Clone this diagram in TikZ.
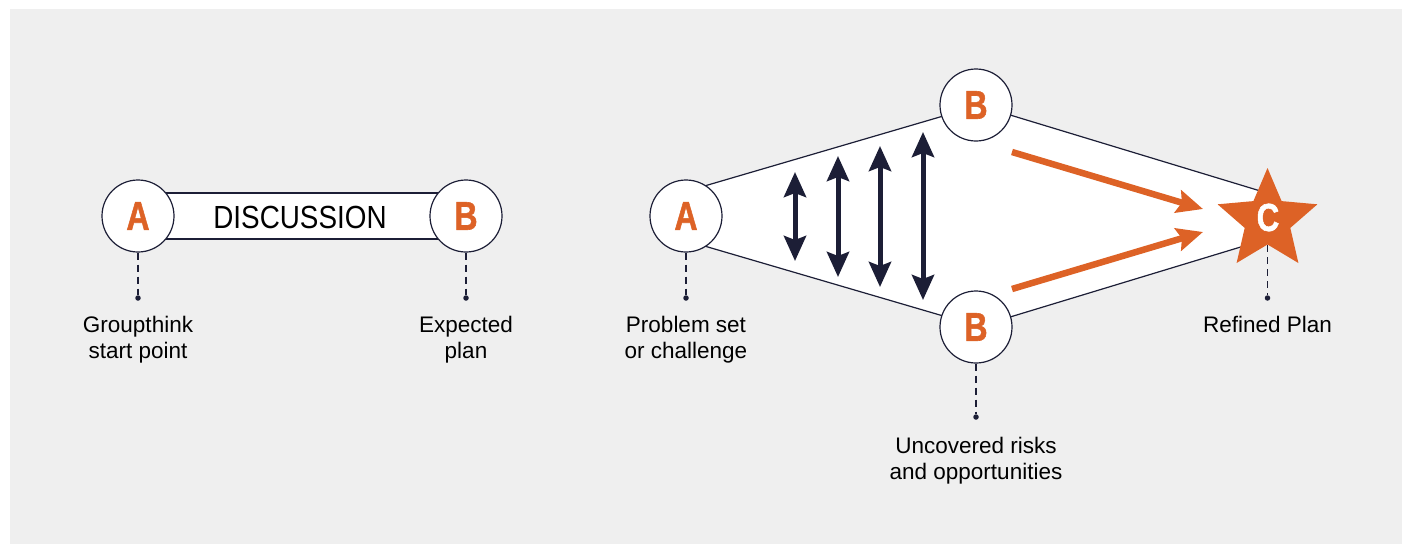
\documentclass[tikz,border=0pt]{standalone}
\usepackage{fontspec}
\setmainfont{Liberation Sans}
\newfontfamily\letterfont[BoldFeatures={FakeBold=1.5}]{Liberation Sans}
\usetikzlibrary{arrows.meta,shapes.geometric}
\definecolor{bg}{HTML}{EFEFEF}
\definecolor{navy}{HTML}{1C1E36}
\definecolor{orng}{HTML}{DD6226}
\begin{document}
\begin{tikzpicture}[x=1pt,y=-1pt,
  circ/.style={circle,draw=navy,line width=1.2pt,fill=white,minimum size=72pt,inner sep=0pt,
    text=orng,font=\fontsize{40}{40}\letterfont\bfseries},
  lbl/.style={align=center,font=\fontsize{22.5}{26}\selectfont,text=black,inner sep=0pt,anchor=north},
  lead/.style={draw=navy,line width=1.1pt,dash pattern=on 7pt off 5pt},
  dotc/.style={circle,fill=navy,inner sep=0pt,minimum size=5.5pt},
  dbl/.style={navy,line width=5pt,{Stealth[length=25pt,width=22pt,inset=4pt]}-{Stealth[length=25pt,width=22pt,inset=4pt]}},
  oarr/.style={orng,line width=6.5pt,-{Stealth[length=26pt,width=23pt,inset=4pt]}},
  outline/.style={fill=white,draw=navy,line width=1.2pt}]
\useasboundingbox (0,0) rectangle (1406,544);
\fill[bg] (10,9) rectangle (1402,544);

% ---------- left diagram ----------
\filldraw[outline] (138,193) rectangle (466,239);
\node[inner sep=0pt,font=\fontsize{32}{32}\selectfont] (disc) at (300,217.5) {\scalebox{0.87}[1]{DISCUSSION}};
\node[circ] (a1) at (138,216) {\scalebox{0.8}[1]{A}};
\node[circ] (b1) at (466,216) {\scalebox{0.8}[1]{B}};
\node[dotc] (d1) at (138,298) {};
\node[dotc] (d2) at (466,298) {};
\draw[lead] (a1.south) -- (d1);
\draw[lead] (b1.south) -- (d2);
\node[lbl] (t1) at (138,316) {Groupthink\\start point};
\node[lbl] (t2) at (466,316) {Expected\\plan};

% ---------- right diagram ----------
\coordinate (l1) at (700,187.3);
\coordinate (l2) at (960,111.1);
\coordinate (l3) at (990,108.9);
\coordinate (l4) at (1267,193);
\coordinate (l5) at (1267,239);
\coordinate (l6) at (990,323.1);
\coordinate (l7) at (960,320.9);
\coordinate (l8) at (700,244.7);
\filldraw[outline] (l1)--(l2)--(l3)--(l4)--(l5)--(l6)--(l7)--(l8)--cycle;

\node[circ] (a2) at (686,216) {\scalebox{0.8}[1]{A}};
\node[circ] (bt) at (976,105) {\scalebox{0.8}[1]{B}};
\node[circ] (bb) at (976,327) {\scalebox{0.8}[1]{B}};

% star
\fill[orng] (1267.5,168) -- (1281.6,201.1) -- (1317.4,204.3) -- (1290.3,227.9) -- (1298.4,263.0)
  -- (1267.5,244.5) -- (1236.6,263.0) -- (1244.7,227.9) -- (1217.6,204.3) -- (1253.4,201.1) -- cycle;
\node[inner sep=0pt,text=white,font=\fontsize{39}{39}\letterfont\bfseries] (c) at (1268,217.5) {\scalebox{0.8}[1]{C}};
\coordinate (cs) at (1267.5,245);

% vertical double arrows
\coordinate (v1a) at (795,172); \coordinate (v1b) at (795,261);
\coordinate (v2a) at (838,156); \coordinate (v2b) at (838,277);
\coordinate (v3a) at (880,146); \coordinate (v3b) at (880,287);
\coordinate (v4a) at (923,132); \coordinate (v4b) at (923,300);
\draw[dbl] (v1a) -- (v1b);
\draw[dbl] (v2a) -- (v2b);
\draw[dbl] (v3a) -- (v3b);
\draw[dbl] (v4a) -- (v4b);

% orange arrows
\coordinate (o1s) at (1012,152); \coordinate (o1e) at (1203,209);
\coordinate (o2s) at (1012,289); \coordinate (o2e) at (1203,232);
\draw[oarr] (o1s) -- (o1e);
\draw[oarr] (o2s) -- (o2e);

% leads and labels
\node[dotc] (d3) at (686,298) {};
\node[dotc] (d4) at (976,417) {};
\node[dotc] (d5) at (1267.5,298) {};
\draw[lead] (a2.south) -- (d3);
\draw[lead] (bb.south) -- (d4);
\draw[lead] (cs) -- (d5);
\node[lbl] (t3) at (686,316) {Problem set\\or challenge};
\node[lbl] (t4) at (976,437) {Uncovered risks\\and opportunities};
\node[lbl] (t5) at (1267.5,316) {Refined Plan};
\end{tikzpicture}
\end{document}
